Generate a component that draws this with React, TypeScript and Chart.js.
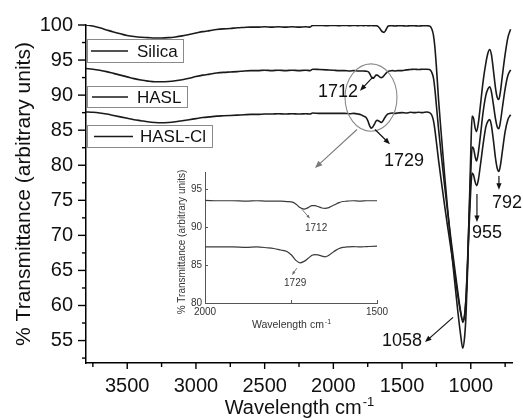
import React, { useEffect, useRef } from 'react';
import { Chart, registerables } from 'chart.js';

Chart.register(...registerables);

// ---------- DATA ----------
const wavenumbers = [
  3800, 3750, 3700, 3650, 3600, 3550, 3500, 3450, 3400, 3350,
  3300, 3250, 3200, 3150, 3100, 3050, 3000, 2950, 2900, 2850,
  2800, 2750, 2700, 2650, 2600, 2550, 2500, 2450, 2400, 2350,
  2300, 2250, 2200, 2170, 2150, 2100, 2050, 2000, 1960, 1920,
  1880, 1850, 1820, 1800, 1780, 1762, 1748, 1735, 1724, 1712,
  1700, 1689, 1680, 1672, 1660, 1651, 1640, 1631, 1620, 1610,
  1600, 1587, 1570, 1550, 1530, 1500, 1470, 1440, 1410, 1380,
  1350, 1320, 1300, 1285, 1272, 1262, 1250, 1235, 1215, 1190,
  1165, 1140, 1115, 1095, 1075, 1058, 1045, 1035, 1025, 1015,
  1005, 997, 990, 980, 968, 958, 945, 930, 910, 890,
  875, 862, 850, 835, 820, 808, 796, 785, 770, 750,
  730, 710,
];

const silica = [
  100.0, 99.85, 99.6, 99.3, 99.0, 98.75, 98.5, 98.35, 98.25, 98.2,
  98.15, 98.15, 98.2, 98.3, 98.45, 98.65, 98.85, 99.05, 99.2, 99.35,
  99.45, 99.5, 99.6, 99.65, 99.7, 99.7, 99.75, 99.7, 99.75, 99.7,
  99.75, 99.7, 99.75, 99.7, 99.95, 99.95, 99.9, 99.95, 99.9, 99.95,
  99.9, 99.95, 99.9, 99.95, 99.9, 99.95, 99.9, 99.9, 99.95, 99.9,
  99.9, 99.9, 99.85, 99.75, 99.45, 99.2, 99.0, 98.95, 99.2, 99.6,
  99.85, 99.9, 99.9, 99.85, 99.9, 99.9, 99.85, 99.9, 99.9, 99.85,
  99.9, 99.9, 99.85, 99.5, 98.6, 97.0, 94.0, 89.5, 84.5, 78.5,
  73.0, 67.8, 63.0, 59.3, 56.0, 53.9, 55.5, 58.5, 64.0, 71.0,
  78.0, 84.0, 87.0, 86.7, 85.3, 84.8, 86.0, 88.5, 92.0, 94.6,
  96.0, 96.5, 95.8, 93.5, 91.0, 89.7, 89.4, 90.4, 92.8, 95.8,
  98.2, 99.4,
];

const hasl = [
  93.8, 93.7, 93.55, 93.35, 93.1, 92.85, 92.6, 92.35, 92.15, 92.0,
  91.9, 91.9, 91.95, 92.05, 92.2, 92.4, 92.65, 92.85, 93.0, 93.15,
  93.25, 93.3, 93.35, 93.45, 93.5, 93.5, 93.55, 93.5, 93.55, 93.5,
  93.55, 93.5, 93.55, 93.5, 93.7, 93.65, 93.6, 93.55, 93.5, 93.5,
  93.45, 93.5, 93.45, 93.45, 93.45, 93.4, 93.35, 93.05, 92.6, 92.4,
  92.6, 92.85, 92.85, 92.75, 92.55, 92.5, 92.6, 92.8, 93.05, 93.25,
  93.4, 93.45, 93.5, 93.45, 93.5, 93.5, 93.6, 93.65, 93.7, 93.65,
  93.7, 93.7, 93.65, 93.3, 92.5, 91.0, 88.5, 85.3, 81.5, 77.0,
  72.8, 68.8, 65.0, 62.0, 59.3, 57.6, 58.5, 61.0, 65.5, 71.0,
  76.5, 80.5, 82.6, 82.4, 81.2, 80.6, 81.8, 84.2, 87.6, 90.0,
  90.9, 91.2, 90.5, 88.6, 86.6, 85.5, 85.2, 86.1, 88.2, 90.9,
  92.8, 93.6,
];

const haslCl = [
  87.6, 87.55, 87.45, 87.3, 87.1, 86.9, 86.7, 86.5, 86.35, 86.2,
  86.1, 86.05, 86.1, 86.2, 86.35, 86.5, 86.65, 86.8, 86.9, 87.0,
  87.05, 87.1, 87.15, 87.2, 87.25, 87.25, 87.3, 87.3, 87.35, 87.3,
  87.35, 87.3, 87.35, 87.3, 87.45, 87.4, 87.4, 87.4, 87.4, 87.4,
  87.35, 87.4, 87.3, 87.2, 87.0, 86.8, 86.3, 85.6, 85.3, 85.5,
  85.9, 86.3, 86.4, 86.35, 86.2, 86.1, 86.3, 86.6, 86.95, 87.2,
  87.35, 87.4, 87.45, 87.4, 87.45, 87.5, 87.45, 87.55, 87.5, 87.55,
  87.5, 87.6, 87.5, 87.2, 86.4, 85.2, 83.3, 80.8, 77.8, 74.2,
  70.8, 67.5, 64.3, 61.5, 59.1, 57.9, 58.7, 61.0, 65.0, 70.0,
  74.5, 77.6, 78.9, 78.6, 77.6, 77.1, 77.9, 80.0, 83.0, 85.5,
  86.3, 86.5, 85.7, 83.5, 81.0, 79.6, 79.1, 79.9, 82.0, 84.8,
  86.5, 87.2,
];

const seriesNames = ['Silica', 'HASL', 'HASL-Cl'];
const xTickLabels = [3500, 3000, 2500, 2000, 1500, 1000];
const yTickLabels = [55, 60, 65, 70, 75, 80, 85, 90, 95, 100];
const insetXTickLabels = [2000, 1500];
const insetYTickLabels = [80, 85, 90, 95];
const peakLabels = ['1712', '1729', '955', '792', '1058'];

const FONT = "'Liberation Sans', Arial, Helvetica, sans-serif";

// callouts anchored in data space (wavenumber, transmittance)
const mainCallouts = [
  { text: peakLabels[0], at: [1966, 90.5], from: [1711, 92.6], to: [1806, 90.64] },
  { text: peakLabels[1], at: [1486, 80.58], from: [1697, 85.1], to: [1588, 83.0] },
  { text: peakLabels[2], at: [882, 70.37], from: [955, 75.9], to: [955, 71.9] },
  { text: peakLabels[3], at: [736, 74.6], from: [795, 78.45], to: [795, 76.5] },
  { text: peakLabels[4], at: [1500, 54.9], from: [1129, 58.3], to: [1333, 54.78] },
];
const insetCallouts = [
  { text: peakLabels[0], at: [1677, 89.85], from: [1718, 92.36], to: [1695, 91.17] },
  { text: peakLabels[1], at: [1738, 82.6], from: [1733, 84.6], to: [1747, 83.7] },
];

function pts(vals: number[]) {
  return wavenumbers.map((x, i) => ({ x, y: vals[i] }));
}

function arrow(ctx: CanvasRenderingContext2D, x1: number, y1: number, x2: number, y2: number, color: string, head: number, width: number) {
  const ang = Math.atan2(y2 - y1, x2 - x1);
  ctx.save();
  ctx.strokeStyle = color;
  ctx.fillStyle = color;
  ctx.lineWidth = width;
  ctx.beginPath();
  ctx.moveTo(x1, y1);
  ctx.lineTo(x2 - Math.cos(ang) * head * 0.6, y2 - Math.sin(ang) * head * 0.6);
  ctx.stroke();
  ctx.beginPath();
  ctx.moveTo(x2, y2);
  ctx.lineTo(x2 - head * Math.cos(ang - 0.38), y2 - head * Math.sin(ang - 0.38));
  ctx.lineTo(x2 - head * Math.cos(ang + 0.38), y2 - head * Math.sin(ang + 0.38));
  ctx.closePath();
  ctx.fill();
  ctx.restore();
}

function superTitle(ctx: CanvasRenderingContext2D, cx: number, baseY: number, size: number, supSize: number, color: string) {
  ctx.save();
  ctx.fillStyle = color;
  ctx.textBaseline = 'alphabetic';
  ctx.textAlign = 'left';
  ctx.font = `${size}px ${FONT}`;
  const main = 'Wavelength cm';
  const w1 = ctx.measureText(main).width;
  ctx.font = `${supSize}px ${FONT}`;
  const w2 = ctx.measureText('-1').width;
  const x0 = cx - (w1 + w2) / 2;
  ctx.font = `${size}px ${FONT}`;
  ctx.fillText(main, x0, baseY);
  ctx.font = `${supSize}px ${FONT}`;
  ctx.fillText('-1', x0 + w1 + 1, baseY - size * 0.42);
  ctx.restore();
}

const legendBoxes = [
  { x: 87, y: 39, w: 96, h: 23, l1: 91, l2: 128, tx: 137 },
  { x: 87, y: 86, w: 100, h: 21, l1: 92, l2: 128, tx: 137 },
  { x: 87, y: 125, w: 125, h: 22, l1: 94, l2: 133, tx: 140 },
];

const mainPlugin = {
  id: 'mainDecor',
  afterDraw(chart: any) {
    const { ctx, chartArea, scales } = chart;
    const xs = scales.x;
    const ys = scales.y;
    ctx.save();
    // tick marks
    ctx.strokeStyle = '#000';
    ctx.lineWidth = 1.4;
    xs.ticks.forEach((t: any) => {
      const px = xs.getPixelForValue(t.value);
      const len = t.value % 500 === 0 ? 6 : 4;
      ctx.beginPath();
      ctx.moveTo(px, chartArea.bottom);
      ctx.lineTo(px, chartArea.bottom + len);
      ctx.stroke();
    });
    ys.ticks.forEach((t: any) => {
      const py = ys.getPixelForValue(t.value);
      const len = t.value % 5 === 0 ? 8 : 4;
      ctx.beginPath();
      ctx.moveTo(chartArea.left - len, py);
      ctx.lineTo(chartArea.left, py);
      ctx.stroke();
    });

    // x title with superscript
    superTitle(ctx, (chartArea.left + chartArea.right) / 2, 414, 20, 13, '#111');

    // legend boxes
    legendBoxes.forEach((b, i) => {
      ctx.fillStyle = '#fff';
      ctx.fillRect(b.x, b.y, b.w, b.h);
      ctx.strokeStyle = '#8a8a8a';
      ctx.lineWidth = 1;
      ctx.strokeRect(b.x + 0.5, b.y + 0.5, b.w, b.h);
      const cy = b.y + b.h / 2 + 0.5;
      ctx.strokeStyle = '#1a1a1a';
      ctx.lineWidth = 1.5;
      ctx.beginPath();
      ctx.moveTo(b.l1, cy);
      ctx.lineTo(b.l2, cy);
      ctx.stroke();
      ctx.fillStyle = '#111';
      ctx.font = `17px ${FONT}`;
      ctx.textAlign = 'left';
      ctx.textBaseline = 'middle';
      ctx.fillText(seriesNames[i], b.tx, cy + 1);
    });

    // ellipse around the carbonyl region
    const ecx = xs.getPixelForValue(1726);
    const ecy = ys.getPixelForValue(89.65);
    const erx = Math.abs(xs.getPixelForValue(1726 + 189) - ecx);
    const ery = Math.abs(ys.getPixelForValue(89.65 + 4.8) - ecy);
    ctx.strokeStyle = '#8a8a8a';
    ctx.lineWidth = 1.1;
    ctx.beginPath();
    ctx.ellipse(ecx, ecy, erx, ery, 0, 0, Math.PI * 2);
    ctx.stroke();
    arrow(ctx, xs.getPixelForValue(1828), ys.getPixelForValue(85.1), xs.getPixelForValue(2134), ys.getPixelForValue(79.6), '#7a7a7a', 8, 1.1);

    // callouts
    mainCallouts.forEach((c) => {
      arrow(ctx, xs.getPixelForValue(c.from[0]), ys.getPixelForValue(c.from[1]), xs.getPixelForValue(c.to[0]), ys.getPixelForValue(c.to[1]), '#111', 7, 1.2);
      ctx.fillStyle = '#111';
      ctx.font = `18px ${FONT}`;
      ctx.textAlign = 'center';
      ctx.textBaseline = 'middle';
      ctx.fillText(c.text, xs.getPixelForValue(c.at[0]), ys.getPixelForValue(c.at[1]));
    });
    ctx.restore();
  },
};

const insetPlugin = {
  id: 'insetDecor',
  afterDraw(chart: any) {
    const { ctx, chartArea, scales } = chart;
    const xs = scales.x;
    const ys = scales.y;
    ctx.save();
    ctx.strokeStyle = '#555';
    ctx.lineWidth = 1;
    xs.ticks.forEach((t: any) => {
      const px = Math.round(xs.getPixelForValue(t.value)) + 0.5;
      ctx.beginPath();
      ctx.moveTo(px, chartArea.bottom);
      ctx.lineTo(px, chartArea.bottom - 3);
      ctx.stroke();
    });
    ys.ticks.forEach((t: any) => {
      const py = Math.round(ys.getPixelForValue(t.value)) + 0.5;
      ctx.beginPath();
      ctx.moveTo(chartArea.left, py);
      ctx.lineTo(chartArea.left + 3, py);
      ctx.stroke();
    });
    // titles
    superTitle(ctx, (chartArea.left + chartArea.right) / 2, 168, 10.5, 7, '#333');
    ctx.save();
    ctx.translate(32, 82);
    ctx.rotate(-Math.PI / 2);
    ctx.fillStyle = '#333';
    ctx.font = `10px ${FONT}`;
    ctx.textAlign = 'center';
    ctx.textBaseline = 'middle';
    ctx.fillText('% Transmittance (arbitrary units)', 0, 0);
    ctx.restore();
    // callouts
    insetCallouts.forEach((c) => {
      arrow(ctx, xs.getPixelForValue(c.from[0]), ys.getPixelForValue(c.from[1]), xs.getPixelForValue(c.to[0]), ys.getPixelForValue(c.to[1]), '#666', 4, 0.9);
      ctx.fillStyle = '#333';
      ctx.font = `10px ${FONT}`;
      ctx.textAlign = 'center';
      ctx.textBaseline = 'middle';
      ctx.fillText(c.text, xs.getPixelForValue(c.at[0]), ys.getPixelForValue(c.at[1]));
    });
    ctx.restore();
  },
};

export default function App() {
  const mainRef = useRef<HTMLCanvasElement | null>(null);
  const insetRef = useRef<HTMLCanvasElement | null>(null);

  useEffect(() => {
    const lineDs = (label: string, vals: number[], color: string, w: number) => ({
      label,
      data: pts(vals),
      borderColor: color,
      borderWidth: w,
      pointRadius: 0,
      fill: false,
      cubicInterpolationMode: 'monotone' as const,
    });

    const main = new Chart(mainRef.current as HTMLCanvasElement, {
      type: 'line',
      data: {
        datasets: [
          lineDs(seriesNames[0], silica, '#1a1a1a', 1.6),
          lineDs(seriesNames[1], hasl, '#1a1a1a', 1.6),
          lineDs(seriesNames[2], haslCl, '#1a1a1a', 1.6),
        ],
      },
      options: {
        animation: false,
        responsive: false,
        devicePixelRatio: 1,
        layout: { padding: { top: 23, right: 11, left: 0, bottom: 0 } },
        plugins: { legend: { display: false }, tooltip: { enabled: false } },
        scales: {
          x: {
            type: 'linear',
            min: 700,
            max: 3800,
            reverse: true,
            grid: { display: false, drawTicks: false },
            border: { display: true, color: '#000', width: 1.5 },
            ticks: {
              stepSize: 250,
              includeBounds: false,
              autoSkip: false,
              maxRotation: 0,
              padding: 11,
              color: '#111',
              font: { size: 20, family: FONT },
              callback: (v: any) => (xTickLabels.includes(Number(v)) ? String(v) : ''),
            },
            afterFit: (s: any) => { s.height = 57; },
          },
          y: {
            type: 'linear',
            min: 51.8,
            max: 100,
            grid: { display: false, drawTicks: false },
            border: { display: true, color: '#000', width: 1.5 },
            ticks: {
              stepSize: 2.5,
              includeBounds: false,
              autoSkip: false,
              padding: 13,
              color: '#111',
              font: { size: 20, family: FONT },
              callback: (v: any) => (yTickLabels.includes(Number(v)) ? String(v) : ''),
            },
            title: {
              display: true,
              text: '% Transmittance (arbitrary units)',
              color: '#111',
              font: { size: 21, family: FONT },
              padding: { top: 12, bottom: 0 },
            },
            afterFit: (s: any) => { s.width = 86; },
          },
        },
      },
      plugins: [mainPlugin],
    } as any);

    const inset = new Chart(insetRef.current as HTMLCanvasElement, {
      type: 'line',
      data: {
        datasets: [
          lineDs(seriesNames[1], hasl, '#3a3a3a', 1.2),
          lineDs(seriesNames[2], haslCl, '#3a3a3a', 1.2),
        ],
      },
      options: {
        animation: false,
        responsive: false,
        devicePixelRatio: 1,
        layout: { padding: { top: 12, right: 23, left: 0, bottom: 0 } },
        plugins: { legend: { display: false }, tooltip: { enabled: false } },
        scales: {
          x: {
            type: 'linear',
            min: 1500,
            max: 2000,
            reverse: true,
            grid: { display: false, drawTicks: false },
            border: { display: true, color: '#555', width: 1 },
            ticks: {
              stepSize: 250,
              autoSkip: false,
              maxRotation: 0,
              padding: 3,
              color: '#333',
              font: { size: 10, family: FONT },
              callback: (v: any) => (insetXTickLabels.includes(Number(v)) ? String(v) : ''),
            },
            afterFit: (s: any) => { s.height = 37; },
          },
          y: {
            type: 'linear',
            min: 80,
            max: 97.3,
            grid: { display: false, drawTicks: false },
            border: { display: true, color: '#555', width: 1 },
            ticks: {
              stepSize: 5,
              includeBounds: false,
              autoSkip: false,
              padding: 3,
              color: '#333',
              font: { size: 10, family: FONT },
              callback: (v: any) => (insetYTickLabels.includes(Number(v)) ? String(v) : ''),
            },
            afterFit: (s: any) => { s.width = 55; },
          },
        },
      },
      plugins: [insetPlugin],
    } as any);

    return () => {
      main.destroy();
      inset.destroy();
    };
  }, []);

  return (
    <div style={{ position: 'absolute', left: 0, top: 0, width: 523, height: 420, background: '#fff' }}>
      <canvas ref={mainRef} width={523} height={420} style={{ position: 'absolute', left: 0, top: 0 }} />
      <canvas ref={insetRef} width={250} height={180} style={{ position: 'absolute', left: 150, top: 160 }} />
    </div>
  );
}
